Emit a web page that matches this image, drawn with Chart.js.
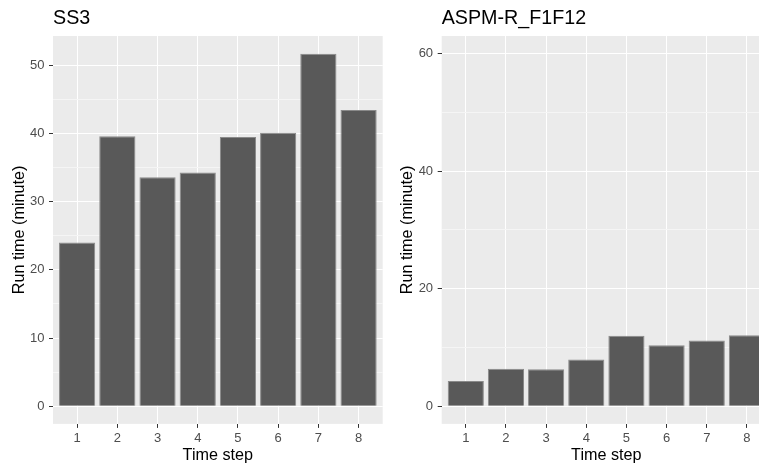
<!DOCTYPE html>
<html>
<head>
<meta charset="utf-8">
<script src="https://cdn.jsdelivr.net/npm/chart.js@4/dist/chart.umd.min.js"></script>
<style>
  html, body { margin:0; padding:0; background:#fff; overflow:hidden; width:759px; height:466px; }
  canvas { position:absolute; top:0; }
  #left { left:0; }
  #right { left:388px; }
</style>
</head>
<body>
<canvas id="left" width="390" height="466"></canvas>
<canvas id="right" width="392" height="466"></canvas>
<script>
// data
const timeSteps = [1, 2, 3, 4, 5, 6, 7, 8];
const ss3Minutes = [24.0, 39.6, 33.6, 34.3, 39.5, 40.1, 51.7, 43.45];
const aspmMinutes = [4.3, 6.4, 6.3, 7.95, 12.0, 10.4, 11.2, 12.1];
const ss3Ticks = [0, 5, 10, 15, 20, 25, 30, 35, 40, 45, 50];
const aspmTicks = [0, 10, 20, 30, 40, 50, 60];
const ss3Major = [0, 10, 20, 30, 40, 50];
const aspmMajor = [0, 20, 40, 60];

const FONT = '"Liberation Sans", Arial, sans-serif';

// ggplot grey panel
const panelBg = {
  id: 'panelBg',
  beforeDraw(chart) {
    const a = chart.chartArea, ctx = chart.ctx;
    ctx.save();
    ctx.fillStyle = '#EBEBEB';
    ctx.fillRect(a.left, a.top, a.right - a.left, a.bottom - a.top);
    ctx.restore();
  }
};

function makePanel(id, title, values, yMin, yMax, yTicks, yMajor, padRight, yWidth) {
  const isMajor = v => yMajor.includes(v);
  return new Chart(document.getElementById(id), {
    type: 'bar',
    data: {
      datasets: [{
        data: timeSteps.map((t, i) => ({ x: t, y: values[i] })),
        backgroundColor: '#595959',
        borderColor: '#8A8A8A',
        borderWidth: 1,
        barPercentage: 0.9,
        categoryPercentage: 1
      }]
    },
    options: {
      responsive: false, animation: false,
      layout: { padding: { left: 0, right: padRight, top: 0, bottom: 0 } },
      plugins: {
        legend: { display: false },
        tooltip: { enabled: false },
        title: {
          display: true, text: title, align: 'start', fullSize: false,
          color: '#000', font: { family: FONT, size: 19.7, weight: 'normal' },
          padding: { top: 6.4, bottom: 5.96 }
        }
      },
      scales: {
        x: {
          type: 'linear', min: 0.4, max: 8.6, offset: false,
          afterBuildTicks: s => { s.ticks = timeSteps.map(v => ({ value: v })); },
          afterFit: s => { s.height = 42.1; },
          border: { display: false },
          grid: { offset: false, color: '#FFFFFF', lineWidth: 1, tickColor: '#333333', tickLength: 4, tickWidth: 1 },
          ticks: { color: '#4D4D4D', font: { family: FONT, size: 13 }, padding: 3, maxRotation: 0 },
          title: { display: true, text: 'Time step', color: '#000', font: { family: FONT, size: 16.2 }, padding: { top: 0, bottom: 0.6 } }
        },
        y: {
          min: yMin, max: yMax,
          afterBuildTicks: s => { s.ticks = yTicks.map(v => ({ value: v })); },
          afterFit: s => { s.width = yWidth; },
          border: { display: false },
          grid: {
            color: c => isMajor(c.tick.value) ? '#FFFFFF' : '#F5F5F5',
            lineWidth: 1,
            tickColor: c => isMajor(c.tick.value) ? '#333333' : 'rgba(0,0,0,0)',
            tickLength: 4, tickWidth: 1
          },
          ticks: {
            color: '#4D4D4D', font: { family: FONT, size: 13 }, padding: 4.6,
            callback: v => isMajor(v) ? String(v) : ''
          },
          title: { display: true, text: 'Run time (minute)', color: '#000', font: { family: FONT, size: 16.2 }, padding: { top: 10, bottom: 0 } }
        }
      }
    },
    plugins: [panelBg]
  });
}

makePanel('left', 'SS3', ss3Minutes, -2.586, 54.3, ss3Ticks, ss3Major, 7.3, 53);
makePanel('right', 'ASPM-R_F1F12', aspmMinutes, -3, 63, aspmTicks, aspmMajor, 9, 53.7);
</script>
</body>
</html>
